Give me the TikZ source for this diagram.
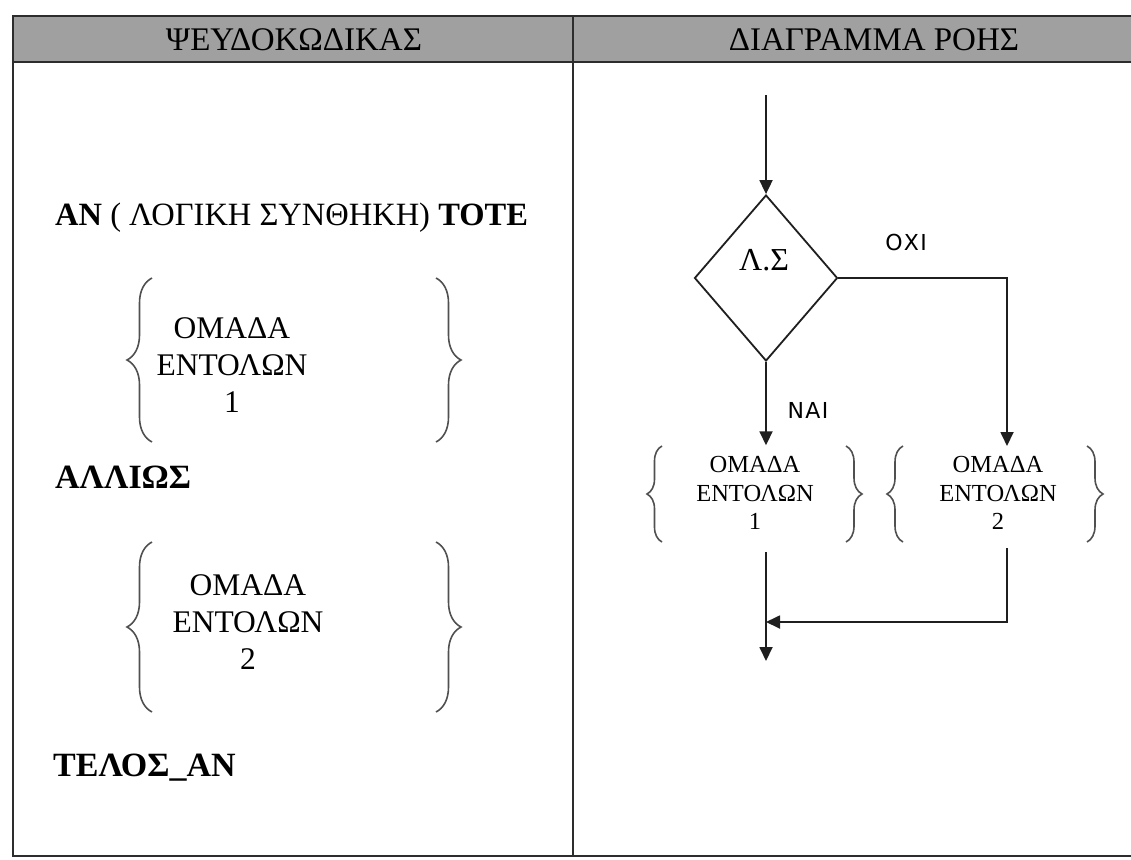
\documentclass[tikz,border=0pt]{standalone}
\usepackage{fontspec}
\setmainfont{Liberation Serif}
\newfontfamily\labelsans[LetterSpace=6]{DejaVu Sans}
\usetikzlibrary{shapes.geometric,arrows.meta,decorations.pathreplacing}
\definecolor{headgray}{RGB}{160,160,160}
\definecolor{rulecol}{RGB}{45,45,45}
\definecolor{bracecol}{RGB}{80,80,80}

\begin{document}
\begin{tikzpicture}[x=1pt,y=-1pt,
  rule/.style={line width=2.6pt, draw=rulecol},
  flow/.style={line width=1.8pt, draw=black!88},
  arr/.style={flow, -{Triangle[length=14pt,width=13pt]}},
  bigbrace/.style={decorate, decoration={brace, amplitude=#1}, line width=1.6pt, draw=bracecol},
  headtext/.style={inner sep=0pt, font=\fontsize{33}{36}\selectfont},
  codetext/.style={inner sep=0pt, font=\fontsize{32.5}{36}\selectfont},
  boldtext/.style={inner sep=0pt, font=\fontsize{34}{36}\selectfont\bfseries},
  codeblock/.style={inner sep=0pt, align=center, font=\fontsize{31.5}{37}\selectfont},
  flowblock/.style={inner sep=0pt, align=center, font=\fontsize{24.5}{28.5}\selectfont},
  answer/.style={inner sep=0pt, font=\labelsans\fontsize{22}{24}\selectfont},
  blockarea/.style={draw=none, minimum width=215pt, minimum height=97pt, inner sep=0pt},
]
\useasboundingbox (0,0) rectangle (1131,859);

% table frame with grey header row
\begin{scope}
\clip (0,0) rectangle (1131,859);
\fill[headgray] (13,16) rectangle (1150,62);
\draw[rule] (1150,16) -- (13,16) -- (13,856) -- (1150,856);
\draw[rule] (13,62) -- (1150,62);
\draw[rule] (573,16) -- (573,856);
\end{scope}

\node[headtext] (hpseudo) at (294,40) {ΨΕΥΔΟΚΩΔΙΚΑΣ};
\node[headtext] (hflow) at (874,40) {ΔΙΑΓΡΑΜΜΑ ΡΟΗΣ};

% pseudocode column
\node[codetext, anchor=west] (ifline) at (55,218) {\textbf{ΑΝ} ( ΛΟΓΙΚΗ ΣΥΝΘΗΚΗ) \textbf{ΤΟΤΕ}};
\node[codeblock] (code1) at (232,365) {ΟΜΑΔΑ\\ΕΝΤΟΛΩΝ\\1};
\node[boldtext, anchor=west] (elseline) at (55,477) {ΑΛΛΙΩΣ};
\node[codeblock] (code2) at (248,622) {ΟΜΑΔΑ\\ΕΝΤΟΛΩΝ\\2};
\node[boldtext, anchor=west] (endline) at (53,768) {ΤΕΛΟΣ\_ΑΝ};

\draw[bigbrace=25pt] (152,442) -- (152,278);
\draw[bigbrace=25pt] (436,278) -- (436,442);
\draw[bigbrace=25pt] (152,712) -- (152,542);
\draw[bigbrace=25pt] (436,542) -- (436,712);

% flow chart column
\coordinate (start) at (766,95);
\node[diamond, flow, minimum width=143pt, minimum height=166pt, inner sep=0pt] (cond) at (766,278) {};
\node[inner sep=0pt, font=\fontsize{32}{34}\selectfont] (condlbl) at (764,260) {Λ.Σ};
\node[answer] (no) at (906,242) {ΟΧΙ};
\node[answer] (yes) at (808,410) {ΝΑΙ};

\node[blockarea] (blk1) at (754.5,494) {};
\node[blockarea] (blk2) at (995,494) {};
\node[flowblock] (txt1) at (755,493) {ΟΜΑΔΑ\\ΕΝΤΟΛΩΝ\\1};
\node[flowblock] (txt2) at (998,493) {ΟΜΑΔΑ\\ΕΝΤΟΛΩΝ\\2};

\draw[bigbrace=15pt] (662,542) -- (662,446);
\draw[bigbrace=16pt] (846,446) -- (846,542);
\draw[bigbrace=16pt] (903,542) -- (903,446);
\draw[bigbrace=16pt] (1087,446) -- (1087,542);

\coordinate (in2) at (1007,446);
\coordinate (out1) at (766,552);
\coordinate (out2) at (1007,548);
\coordinate (join) at (766,622);
\coordinate (finish) at (766,661);

\draw[arr] (start) -- (cond.north);
\draw[arr] (cond.south) -- (cond.south |- blk1.north);
\draw[arr] (cond.east) -| (in2);
\draw[arr] (out1) -- (finish);
\draw[arr] (out2) |- (join);
\end{tikzpicture}
\end{document}
